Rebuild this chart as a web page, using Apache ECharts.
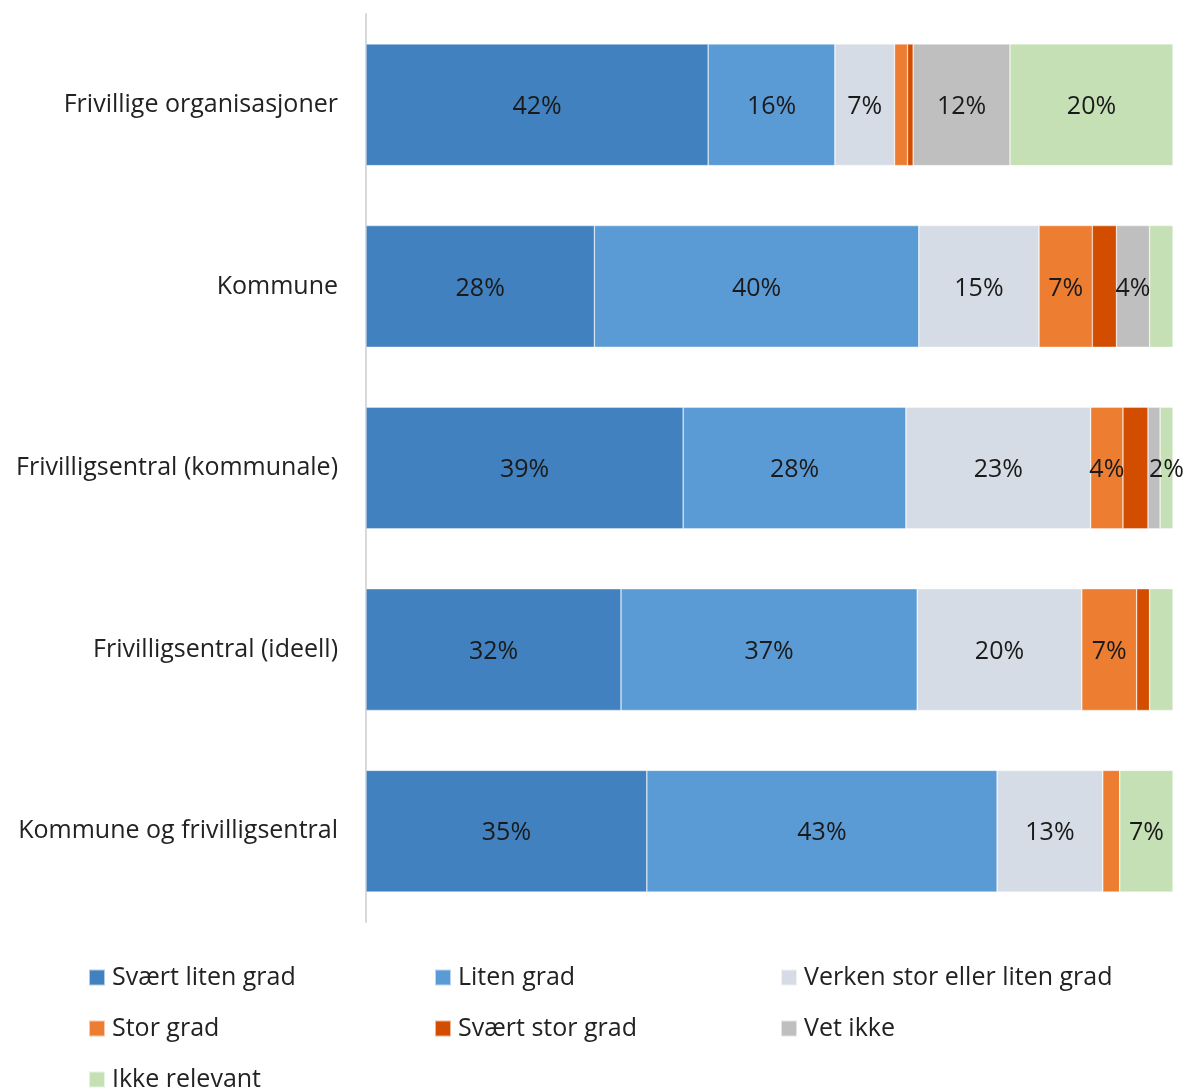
<!DOCTYPE html>
<html>
<head>
<meta charset="utf-8">
<script src="https://cdn.jsdelivr.net/npm/echarts@6/dist/echarts.min.js"></script>
<style>
  html, body { margin: 0; padding: 0; background: #fff; }
  #chart { width: 1186px; height: 1091px; }
</style>
</head>
<body>
<div id="chart"></div>
<script>
// Respondent groups (top to bottom)
const categories = [
  'Frivillige organisasjoner',
  'Kommune',
  'Frivilligsentral (kommunale)',
  'Frivilligsentral (ideell)',
  'Kommune og frivilligsentral'
];

// Answer categories, in stacking order
const seriesNames = [
  'Svært liten grad',
  'Liten grad',
  'Verken stor eller liten grad',
  'Stor grad',
  'Svært stor grad',
  'Vet ikke',
  'Ikke relevant'
];

// Share of answers (%) per group
const sværtLitenGrad   = [42.4, 28.3, 39.3, 31.6, 34.8];
const litenGrad        = [15.7, 40.2, 27.6, 36.7, 43.4];
const verken           = [7.4, 14.9, 22.9, 20.4, 13.1];
const storGrad         = [1.6, 6.6, 4.0, 6.8, 2.1];
const sværtStorGrad    = [0.7, 3.0, 3.1, 1.6, 0];
const vetIkke          = [12.0, 4.1, 1.5, 0, 0];
const ikkeRelevant     = [20.2, 2.9, 1.6, 2.9, 6.6];

const seriesValues = [sværtLitenGrad, litenGrad, verken, storGrad, sværtStorGrad, vetIkke, ikkeRelevant];

// Which segments carry a value label (series index -> group indices)
const labelledSegments = [
  [0, 1, 2, 3, 4],
  [0, 1, 2, 3, 4],
  [0, 1, 2, 3, 4],
  [1, 2, 3],
  [],
  [0, 1],
  [0, 2, 4]
];

const colors = ['#4181BF', '#5B9BD5', '#D6DCE5', '#ED7D31', '#D24D00', '#BFBFBF', '#C5E0B4'];

const FONT = '"Open Sans", sans-serif';
const TEXT = '#222222';

const series = seriesNames.map((name, si) => ({
  name,
  type: 'bar',
  stack: 'total',
  barCategoryGap: '33%',
  itemStyle: { color: colors[si], borderColor: 'rgba(255,255,255,0.6)', borderWidth: 0.6 },
  label: {
    show: false,
    position: 'inside',
    offset: [0, 2],
    fontFamily: FONT,
    fontSize: 25,
    color: '#1a1a1a',
    formatter: p => Math.round(p.value) + '%'
  },
  emphasis: { disabled: true },
  data: seriesValues[si].map((v, ci) => ({
    value: v,
    label: { show: labelledSegments[si].includes(ci) && v > 0 }
  }))
}));

// Legend laid out in three columns
const legendCols = [88, 434, 780];
const legendRows = [965, 1016, 1067];
const legends = seriesNames.map((name, i) => ({
  data: [name],
  left: legendCols[i % 3],
  top: legendRows[Math.floor(i / 3)],
  icon: 'rect',
  itemWidth: 16,
  itemHeight: 16,
  itemGap: 0,
  selectedMode: false,
  padding: 0,
  textStyle: { fontFamily: FONT, fontSize: 25, color: TEXT, padding: [0, 0, 0, 2] }
}));

const chart = echarts.init(document.getElementById('chart'));
chart.setOption({
  animation: false,
  color: colors,
  grid: { left: 366, right: 13, top: 14, bottom: 169, containLabel: false },
  xAxis: {
    type: 'value',
    min: 0,
    max: 100,
    show: false
  },
  yAxis: {
    type: 'category',
    data: categories,
    inverse: true,
    axisLine: { show: true, lineStyle: { color: '#D9D9D9', width: 2 } },
    axisTick: { show: false },
    axisLabel: { fontFamily: FONT, fontSize: 25, color: TEXT, margin: 28, padding: [6, 0, 0, 0] }
  },
  legend: legends,
  series
});
</script>
</body>
</html>
